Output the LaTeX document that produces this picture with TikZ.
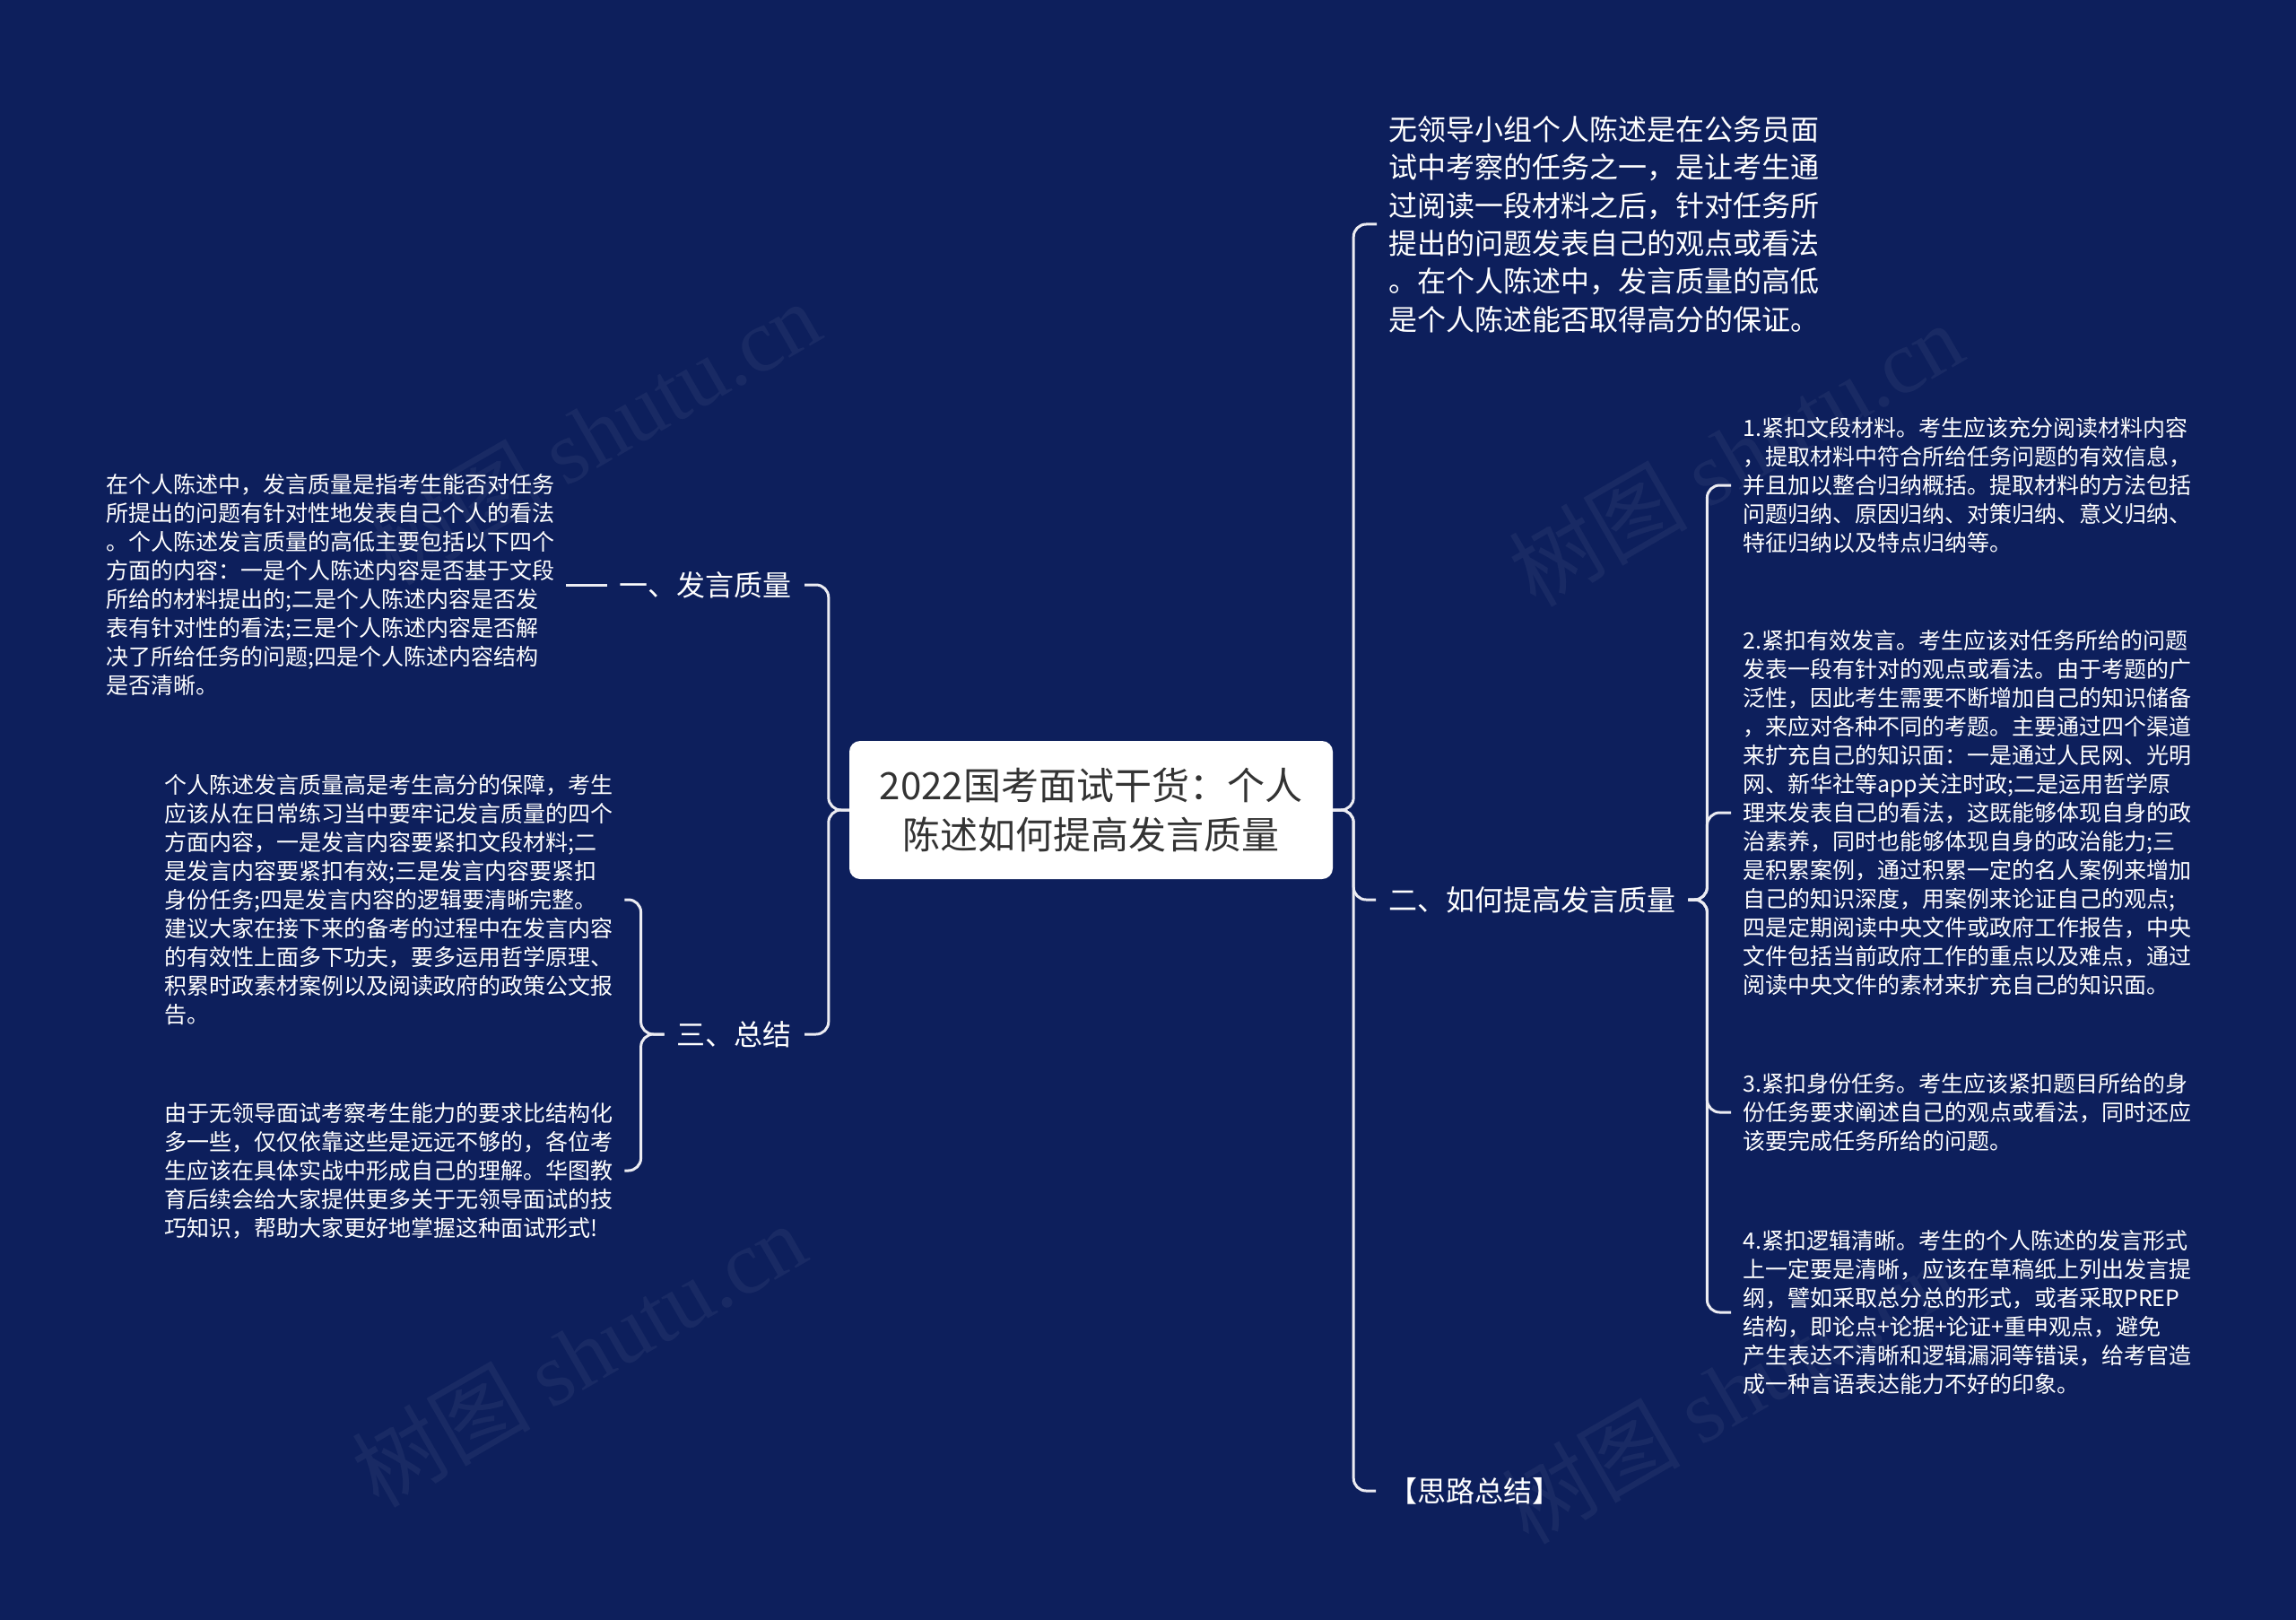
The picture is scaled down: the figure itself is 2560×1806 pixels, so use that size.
\documentclass[tikz,border=0pt]{standalone}
\usepackage{fontspec}
\setmainfont{Noto Sans CJK SC}
\newfontfamily\wmlatin{Liberation Serif}
\newfontfamily\wmcjk{Noto Sans CJK SC}
\definecolor{bg}{HTML}{0D1F5C}
\definecolor{ln}{HTML}{ECECF2}
\definecolor{roottext}{HTML}{333333}
\tikzset{
  wire/.style={draw=ln, line width=3pt, rounded corners=14pt},
  branch/.style={text=white, font=\fontsize{32}{42}\selectfont, inner xsep=14pt, inner ysep=4pt},
  body/.style={text=white, font=\fontsize{25}{32}\selectfont, align=left, inner xsep=13pt, inner ysep=2pt},
  bigbody/.style={text=white, font=\fontsize{32}{42.4}\selectfont, align=left, inner xsep=13pt, inner ysep=2pt},
  rootbox/.style={fill=white, rounded corners=12pt, text=roottext, font=\fontsize{42}{55}\selectfont, align=center, minimum width=539pt, minimum height=154pt},
  wm/.style={text=white, text opacity=0.05, font=\fontsize{100}{110}\selectfont, rotate=30}
}
\begin{document}
\begin{tikzpicture}[x=1pt,y=-1pt]
\fill[bg] (0,0) rectangle (2560,1806);
\useasboundingbox (0,0) rectangle (2560,1806);

% watermarks
\node[wm] (w1) at (661,482) {{\wmcjk 树图} {\wmlatin shutu.cn}};
\node[wm] (w2) at (1935,506) {{\wmcjk 树图} {\wmlatin shutu.cn}};
\node[wm] (w3) at (645,1510) {{\wmcjk 树图} {\wmlatin shutu.cn}};
\node[wm] (w4) at (1927,1551) {{\wmcjk 树图} {\wmlatin shutu.cn}};

% root
\node[rootbox] (c) at (1216.5,903) {2022国考面试干货：个人\\陈述如何提高发言质量};

% left branches
\node[branch, anchor=east] (b1) at (897,652) {一、发言质量};
\node[branch, anchor=east] (b3) at (897,1153) {三、总结};

\node[body, anchor=west] (l1) at (105,652) {在个人陈述中，发言质量是指考生能否对任务\\
所提出的问题有针对性地发表自己个人的看法\\
。个人陈述发言质量的高低主要包括以下四个\\
方面的内容：一是个人陈述内容是否基于文段\\
所给的材料提出的;二是个人陈述内容是否发\\
表有针对性的看法;三是个人陈述内容是否解\\
决了所给任务的问题;四是个人陈述内容结构\\
是否清晰。};

\node[body, anchor=west] (l2) at (170,1003) {个人陈述发言质量高是考生高分的保障，考生\\
应该从在日常练习当中要牢记发言质量的四个\\
方面内容，一是发言内容要紧扣文段材料;二\\
是发言内容要紧扣有效;三是发言内容要紧扣\\
身份任务;四是发言内容的逻辑要清晰完整。\\
建议大家在接下来的备考的过程中在发言内容\\
的有效性上面多下功夫，要多运用哲学原理、\\
积累时政素材案例以及阅读政府的政策公文报\\
告。};

\node[body, anchor=west] (l3) at (170,1305) {由于无领导面试考察考生能力的要求比结构化\\
多一些，仅仅依靠这些是远远不够的，各位考\\
生应该在具体实战中形成自己的理解。华图教\\
育后续会给大家提供更多关于无领导面试的技\\
巧知识，帮助大家更好地掌握这种面试形式!};

% right branches
\node[bigbody, anchor=west] (rA) at (1535,250) {无领导小组个人陈述是在公务员面\\
试中考察的任务之一，是让考生通\\
过阅读一段材料之后，针对任务所\\
提出的问题发表自己的观点或看法\\
。在个人陈述中，发言质量的高低\\
是个人陈述能否取得高分的保证。};

\node[branch, anchor=west] (b2) at (1534,1003) {二、如何提高发言质量};
\node[branch, anchor=west] (b4) at (1534,1662) {【思路总结】};

\node[body, anchor=west] (r1) at (1930,541) {1.紧扣文段材料。考生应该充分阅读材料内容\\
，提取材料中符合所给任务问题的有效信息，\\
并且加以整合归纳概括。提取材料的方法包括\\
问题归纳、原因归纳、对策归纳、意义归纳、\\
特征归纳以及特点归纳等。};

\node[body, anchor=west] (r2) at (1930,906) {2.紧扣有效发言。考生应该对任务所给的问题\\
发表一段有针对的观点或看法。由于考题的广\\
泛性，因此考生需要不断增加自己的知识储备\\
，来应对各种不同的考题。主要通过四个渠道\\
来扩充自己的知识面：一是通过人民网、光明\\
网、新华社等app关注时政;二是运用哲学原\\
理来发表自己的看法，这既能够体现自身的政\\
治素养，同时也能够体现自身的政治能力;三\\
是积累案例，通过积累一定的名人案例来增加\\
自己的知识深度，用案例来论证自己的观点;\\
四是定期阅读中央文件或政府工作报告，中央\\
文件包括当前政府工作的重点以及难点，通过\\
阅读中央文件的素材来扩充自己的知识面。};

\node[body, anchor=west] (r3) at (1930,1240) {3.紧扣身份任务。考生应该紧扣题目所给的身\\
份任务要求阐述自己的观点或看法，同时还应\\
该要完成任务所给的问题。};

\node[body, anchor=west] (r4) at (1930,1463) {4.紧扣逻辑清晰。考生的个人陈述的发言形式\\
上一定要是清晰，应该在草稿纸上列出发言提\\
纲，譬如采取总分总的形式，或者采取PREP\\
结构，即论点+论据+论证+重申观点，避免\\
产生表达不清晰和逻辑漏洞等错误，给考官造\\
成一种言语表达能力不好的印象。};

% connectors
\draw[wire] (c.west) -- ++(-23,0) |- (b1.east);
\draw[wire] (c.west) -- ++(-23,0) |- (b3.east);
\draw[wire] (b1.west) -- (l1.east |- b1.west);
\draw[wire] (b3.west) -- ++(-26,0) |- (l2.east);
\draw[wire] (b3.west) -- ++(-26,0) |- (l3.east);

\draw[wire] (c.east) -- ++(23,0) |- (rA.west);
\draw[wire] (c.east) -- ++(23,0) |- (b2.west);
\draw[wire] (c.east) -- ++(23,0) |- (b4.west);

\draw[wire] (b2.east) -- ++(21,0) |- (r1.west);
\draw[wire] (b2.east) -- ++(21,0) |- (r2.west);
\draw[wire] (b2.east) -- ++(21,0) |- (r3.west);
\draw[wire] (b2.east) -- ++(21,0) |- (r4.west);
\end{tikzpicture}
\end{document}
